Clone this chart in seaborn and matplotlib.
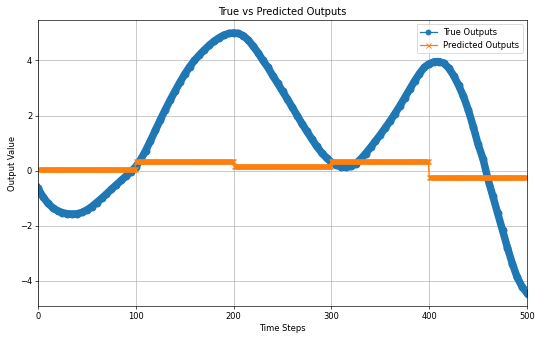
import numpy as np
import pandas as pd
import matplotlib
matplotlib.use("Agg")
import matplotlib.pyplot as plt
import seaborn as sns

# ---- data ----
time_steps = list(range(0, 501, 5))
true_outputs = [
    -0.65, -0.95, -1.18, -1.35, -1.46, -1.53, -1.57, -1.58, -1.57, -1.52,
    -1.43, -1.31, -1.16, -1.01, -0.85, -0.68, -0.52, -0.36, -0.20, -0.04,
    0.14, 0.40, 0.72, 1.08, 1.46, 1.84, 2.20, 2.55, 2.88, 3.20,
    3.50, 3.77, 4.00, 4.20, 4.38, 4.55, 4.70, 4.82, 4.92, 4.98,
    5.00, 4.98, 4.90, 4.74, 4.52, 4.28, 4.00, 3.75, 3.45, 3.17,
    2.88, 2.60, 2.30, 2.00, 1.70, 1.42, 1.15, 0.88, 0.65, 0.46,
    0.30, 0.20, 0.14, 0.12, 0.15, 0.25, 0.42, 0.62, 0.84, 1.07,
    1.30, 1.55, 1.80, 2.07, 2.35, 2.65, 2.95, 3.25, 3.52, 3.75,
    3.88, 3.95, 3.96, 3.90, 3.72, 3.45, 3.10, 2.70, 2.20, 1.60,
    0.95, 0.43, -0.30, -0.92, -1.55, -2.17, -2.80, -3.38, -3.88, -4.22,
    -4.45,
]
pred_levels = [0.07, 0.35, 0.18, 0.35, -0.24]
pred_segment_len = 100

pred_steps = np.arange(len(pred_levels) * pred_segment_len)
pred_outputs = np.repeat(pred_levels, pred_segment_len)

df_true = pd.DataFrame({"t": time_steps, "v": true_outputs})
df_pred = pd.DataFrame({"t": pred_steps, "v": pred_outputs})

DPI = 60
fig = plt.figure(figsize=(540 / DPI, 339 / DPI), dpi=DPI)
ax = fig.add_axes([38 / 540, 1 - 306 / 339, (527 - 38) / 540, (306 - 20) / 339])

blue = "#1f77b4"
orange = "#ff7f0e"
sns.lineplot(data=df_true, x="t", y="v", ax=ax, color=blue,
             marker="o", markersize=9.5, markeredgewidth=0, linewidth=9,
             label="True Outputs")
sns.lineplot(data=df_pred, x="t", y="v", ax=ax, color=orange,
             marker="x", markersize=6, markeredgecolor=orange,
             markeredgewidth=1.5, linewidth=1.5,
             label="Predicted Outputs")

ax.set_xlim(0, 500)
ax.set_ylim(-4.92, 5.47)
ax.set_xticks([0, 100, 200, 300, 400, 500])
ax.set_yticks([-4, -2, 0, 2, 4])
ax.set_title("True vs Predicted Outputs", fontsize=12)
ax.set_xlabel("Time Steps")
ax.set_ylabel("Output Value")
ax.grid(True)

leg = ax.legend(loc="upper right")
h0 = leg.legend_handles[0]
h0.set_linewidth(1.5)
h0.set_markersize(6)
h0.set_markeredgewidth(1)
h0.set_markeredgecolor(blue)
h1 = leg.legend_handles[1]
h1.set_markeredgewidth(1)

fig.savefig("out.png", dpi=DPI)
